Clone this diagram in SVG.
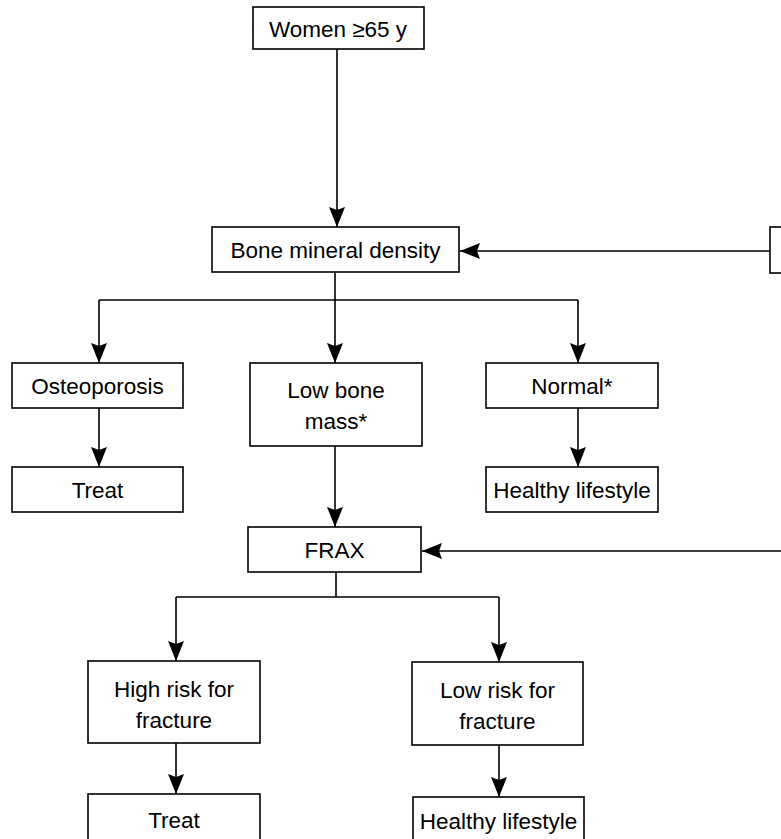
<svg xmlns="http://www.w3.org/2000/svg" width="781" height="839" viewBox="0 0 781 839">
<style>
  .box { fill: #ffffff; stroke: #000000; stroke-width: 1.6; }
  .lbl { font-family: "Liberation Sans", Arial, sans-serif; font-size: 22.5px; fill: #000000; text-anchor: middle; }
  .ln { fill: none; stroke: #000000; stroke-width: 1.6; }
</style>
<defs>
  <marker id="ah" viewBox="0 0 20 16" refX="20" refY="8" markerWidth="20" markerHeight="16" markerUnits="userSpaceOnUse" orient="auto">
    <path d="M0,0 L20,8 L0,16 L3,8 Z" fill="#000000"/>
  </marker>
</defs>
<rect width="781" height="839" fill="#ffffff"/>

<g id="connectors">
  <line class="ln" x1="337" y1="49" x2="337" y2="227" marker-end="url(#ah)"/>
  <line class="ln" x1="770" y1="251" x2="460" y2="251" marker-end="url(#ah)"/>
  <line class="ln" x1="335" y1="272" x2="335" y2="300"/>
  <line class="ln" x1="99" y1="300" x2="578" y2="300"/>
  <line class="ln" x1="99" y1="300" x2="99" y2="363" marker-end="url(#ah)"/>
  <line class="ln" x1="335" y1="300" x2="335" y2="363" marker-end="url(#ah)"/>
  <line class="ln" x1="578" y1="300" x2="578" y2="363" marker-end="url(#ah)"/>
  <line class="ln" x1="99" y1="408" x2="99" y2="467" marker-end="url(#ah)"/>
  <line class="ln" x1="578" y1="408" x2="578" y2="467" marker-end="url(#ah)"/>
  <line class="ln" x1="335" y1="446" x2="335" y2="527" marker-end="url(#ah)"/>
  <line class="ln" x1="781" y1="551" x2="422" y2="551" marker-end="url(#ah)"/>
  <line class="ln" x1="336" y1="572" x2="336" y2="597"/>
  <line class="ln" x1="176" y1="597" x2="499" y2="597"/>
  <line class="ln" x1="176" y1="597" x2="176" y2="661" marker-end="url(#ah)"/>
  <line class="ln" x1="499" y1="597" x2="499" y2="662" marker-end="url(#ah)"/>
  <line class="ln" x1="176" y1="743" x2="176" y2="794" marker-end="url(#ah)"/>
  <line class="ln" x1="499" y1="745" x2="499" y2="797" marker-end="url(#ah)"/>
</g>

<g id="women">
  <rect class="box" x="253" y="7" width="171" height="42"/>
  <text class="lbl" x="338" y="37">Women ≥65 y</text>
</g>
<g id="bmd">
  <rect class="box" x="212" y="227" width="247" height="45"/>
  <text class="lbl" x="335.5" y="258">Bone mineral density</text>
</g>
<g id="right-partial">
  <rect class="box" x="770" y="227" width="40" height="46"/>
</g>
<g id="osteoporosis">
  <rect class="box" x="12" y="363" width="171" height="45"/>
  <text class="lbl" x="97.5" y="394">Osteoporosis</text>
</g>
<g id="treat1">
  <rect class="box" x="12" y="467" width="171" height="45"/>
  <text class="lbl" x="97.5" y="498">Treat</text>
</g>
<g id="lowbonemass">
  <rect class="box" x="250" y="363" width="172" height="83"/>
  <text class="lbl" x="336" y="398">Low bone</text>
  <text class="lbl" x="336" y="429">mass*</text>
</g>
<g id="normal">
  <rect class="box" x="486" y="363" width="172" height="45"/>
  <text class="lbl" x="572" y="394">Normal*</text>
</g>
<g id="healthy1">
  <rect class="box" x="486" y="467" width="172" height="45"/>
  <text class="lbl" x="572" y="498">Healthy lifestyle</text>
</g>
<g id="frax">
  <rect class="box" x="248" y="527" width="173" height="45"/>
  <text class="lbl" x="334.5" y="558">FRAX</text>
</g>
<g id="highrisk">
  <rect class="box" x="88" y="661" width="172" height="82"/>
  <text class="lbl" x="174" y="697">High risk for</text>
  <text class="lbl" x="174" y="728">fracture</text>
</g>
<g id="lowrisk">
  <rect class="box" x="412" y="662" width="171" height="83"/>
  <text class="lbl" x="497.5" y="698">Low risk for</text>
  <text class="lbl" x="497.5" y="729">fracture</text>
</g>
<g id="treat2">
  <rect class="box" x="88" y="794" width="172" height="60"/>
  <text class="lbl" x="174" y="828">Treat</text>
</g>
<g id="healthy2">
  <rect class="box" x="413" y="797" width="171" height="60"/>
  <text class="lbl" x="498.5" y="829">Healthy lifestyle</text>
</g>
</svg>
